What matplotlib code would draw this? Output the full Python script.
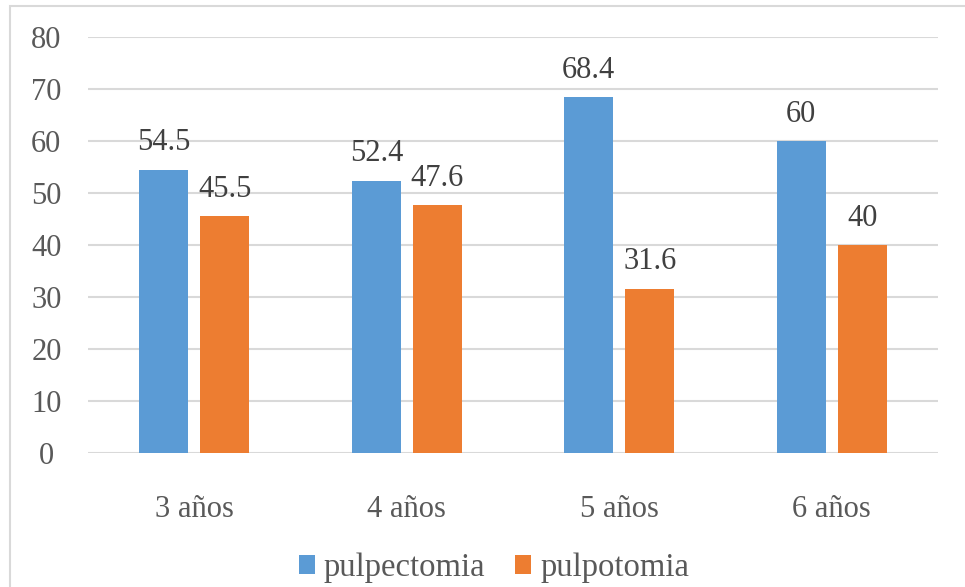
import matplotlib.pyplot as plt
import numpy as np
from matplotlib.patches import Rectangle
from matplotlib.legend_handler import HandlerPatch

categorias = ['3 años', '4 años', '5 años', '6 años']
pulpectomia = [54.5, 52.4, 68.4, 60]
pulpotomia = [45.5, 47.6, 31.6, 40]
etiquetas_pulpectomia = ['54.5', '52.4', '68.4', '60']
etiquetas_pulpotomia = ['45.5', '47.6', '31.6', '40']

plt.rcParams['font.family'] = ['Liberation Serif', 'DejaVu Serif']
gris = '#595959'
azul = '#5B9BD5'
naranja = '#ED7D31'

fig = plt.figure(figsize=(9.65, 5.87), dpi=100)
W, H = 965, 587
ax = fig.add_axes([88 / W, 1 - 453 / H, (938 - 88) / W, (453 - 37) / H])

# marco exterior del grafico
fig.patches.append(Rectangle((10 / W, -0.05), 1.1, 1 - 6 / H + 0.05, transform=fig.transFigure,
                             fill=False, edgecolor='#D9D9D9', linewidth=1.5))

x = np.arange(len(categorias))
ancho = 0.23
desp = 0.143
b1 = ax.bar(x - desp, pulpectomia, ancho, color=azul, label='pulpectomia', zorder=3)
b2 = ax.bar(x + desp, pulpotomia, ancho, color=naranja, label='pulpotomia', zorder=3)

for barras, textos in ((b1, etiquetas_pulpectomia), (b2, etiquetas_pulpotomia)):
    for rect, txt in zip(barras, textos):
        ax.annotate(txt, (rect.get_x() + rect.get_width() / 2, rect.get_height()),
                    xytext=(0, 9), textcoords='offset points', ha='center', va='bottom',
                    fontsize=22, color='#404040')

ax.set_xlim(-0.5, 3.5)
ax.set_ylim(0, 80)
ax.set_yticks(range(0, 81, 10))
ax.set_xticks(x)
ax.set_xticklabels(categorias)
ax.tick_params(axis='both', length=0, labelsize=22, labelcolor=gris)
ax.tick_params(axis='x', pad=30)
ax.tick_params(axis='y', pad=30)
for lbl in ax.get_yticklabels():
    lbl.set_horizontalalignment('center')
ax.grid(axis='y', color='#D9D9D9', linewidth=1.5, zorder=0)
for s in ax.spines.values():
    s.set_visible(False)


def cuadro_alto(legend, orig_handle, xdescent, ydescent, width, height, fontsize):
    return Rectangle((-xdescent, -ydescent + 18), width, width)


leg = fig.legend(handles=[b1, b2], loc='center', bbox_to_anchor=(494 / W, 1 - 568 / H), ncol=2,
                 frameon=False, fontsize=23.5, labelcolor=gris, handlelength=0.49,
                 handleheight=0.49, handletextpad=0.28, columnspacing=0.92,
                 handler_map={Rectangle: HandlerPatch(patch_func=cuadro_alto)})

fig.savefig('out.png', dpi=100)
